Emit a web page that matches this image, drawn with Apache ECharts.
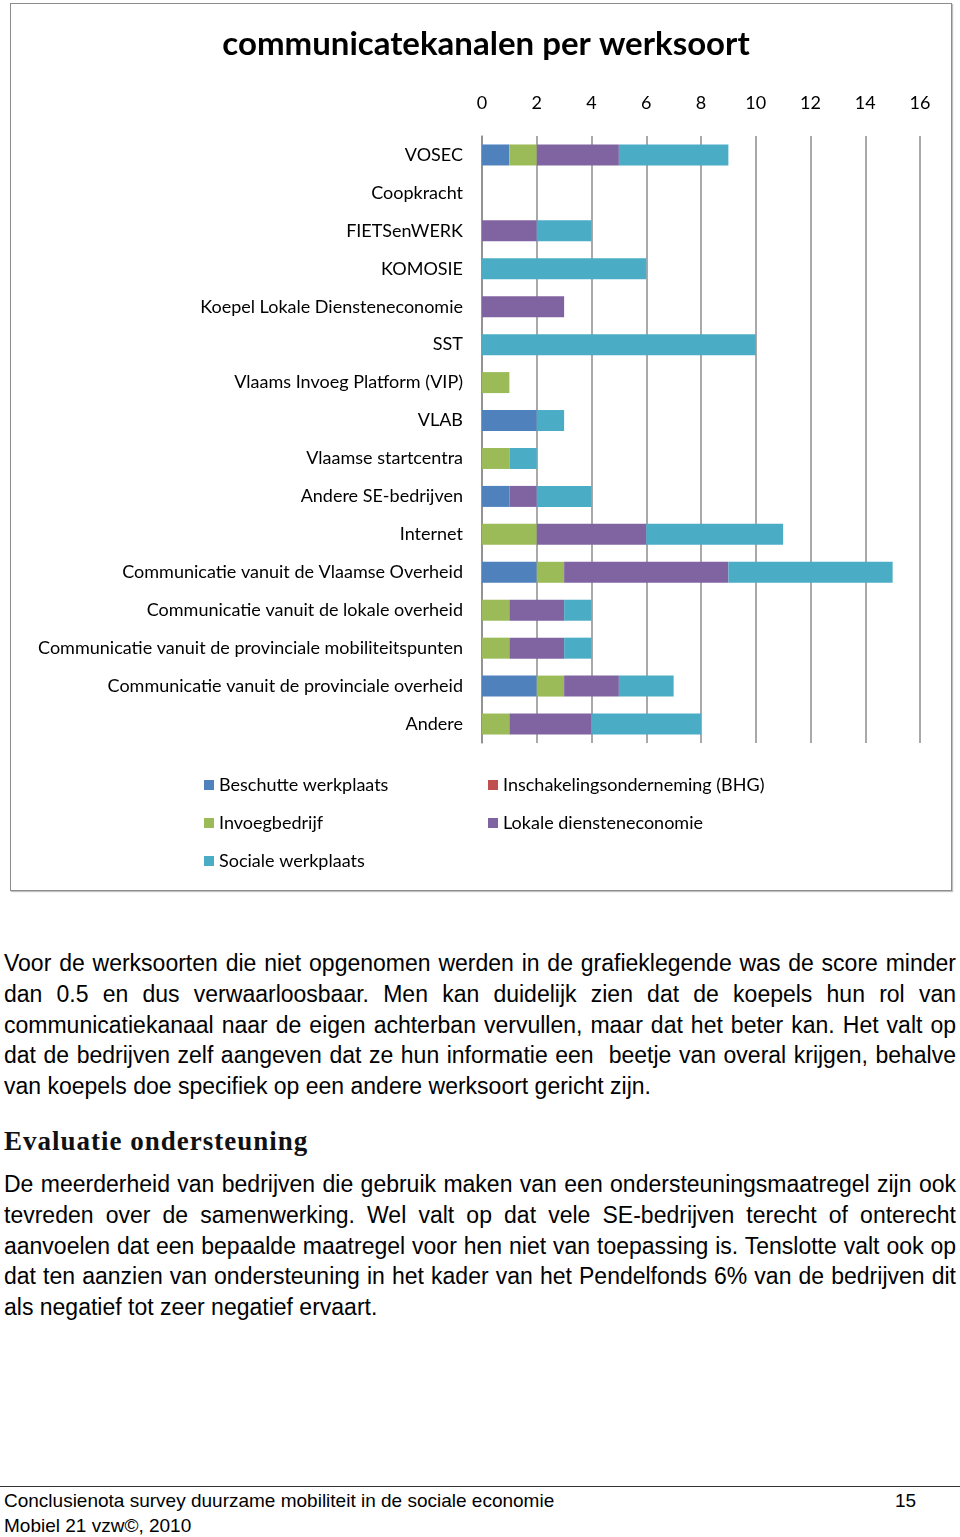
<!DOCTYPE html>
<html>
<head>
<meta charset="utf-8">
<script src="https://cdn.jsdelivr.net/npm/echarts@6/dist/echarts.min.js"></script>
<style>
  html, body { margin:0; padding:0; background:#fff; }
  body { width:960px; height:1537px; position:relative; overflow:hidden; }
  #frame { position:absolute; left:10px; top:3px; width:940px; height:886px; border:1px solid #8c8c8c; box-shadow:1px 1px 1px #c0c0c0; }
  #chart { position:absolute; left:0; top:0; width:960px; height:895px; }
  .txt { position:absolute; left:4px; width:952px; font-family:"Liberation Sans", Arial, sans-serif; font-size:23px; color:#000; }
  .ln { height:30.8px; line-height:30.8px; white-space:nowrap; }
  .j { text-align:justify; text-align-last:justify; }
  h2 { position:absolute; left:4px; top:1126px; margin:0; font-family:"Liberation Serif", serif; font-weight:bold; font-size:27px; letter-spacing:1px; color:#111; }
  #rule { position:absolute; left:0; top:1486px; width:960px; height:0; border-top:1.5px solid #333; }
  .foot { position:absolute; font-family:"Liberation Sans", Arial, sans-serif; font-size:19px; color:#000; }
</style>
</head>
<body>
<div id="frame"></div>
<div id="chart"></div>

<div class="txt" style="top:948px;">
  <div class="ln j">Voor de werksoorten die niet opgenomen werden in de grafieklegende was de score minder</div>
  <div class="ln j">dan 0.5 en dus verwaarloosbaar. Men kan duidelijk zien dat de koepels hun rol van</div>
  <div class="ln j">communicatiekanaal naar de eigen achterban vervullen, maar dat het beter kan. Het valt op</div>
  <div class="ln j">dat de bedrijven zelf aangeven dat ze hun informatie een&nbsp; beetje van overal krijgen, behalve</div>
  <div class="ln">van koepels doe specifiek op een andere werksoort gericht zijn.</div>
</div>

<h2>Evaluatie ondersteuning</h2>

<div class="txt" style="top:1169px;">
  <div class="ln j">De meerderheid van bedrijven die gebruik maken van een ondersteuningsmaatregel zijn ook</div>
  <div class="ln j">tevreden over de samenwerking. Wel valt op dat vele SE-bedrijven terecht of onterecht</div>
  <div class="ln j">aanvoelen dat een bepaalde maatregel voor hen niet van toepassing is. Tenslotte valt ook op</div>
  <div class="ln j">dat ten aanzien van ondersteuning in het kader van het Pendelfonds 6% van de bedrijven dit</div>
  <div class="ln">als negatief tot zeer negatief ervaart.</div>
</div>

<div id="rule"></div>
<div class="foot" style="left:4px; top:1490px;">Conclusienota survey duurzame mobiliteit in de sociale economie</div>
<div class="foot" style="left:895px; top:1490px;">15</div>
<div class="foot" style="left:4px; top:1515px;">Mobiel 21 vzw©, 2010</div>

<script>
const titleText = 'communicatekanalen per werksoort';
const categories = ['VOSEC','Coopkracht','FIETSenWERK','KOMOSIE','Koepel Lokale Diensteneconomie','SST','Vlaams Invoeg Platform (VIP)','VLAB','Vlaamse startcentra','Andere SE-bedrijven','Internet','Communicatie vanuit de Vlaamse Overheid','Communicatie vanuit de lokale overheid','Communicatie vanuit de provinciale mobiliteitspunten','Communicatie vanuit de provinciale overheid','Andere'];
const seriesNames = ['Beschutte werkplaats','Inschakelingsonderneming (BHG)','Invoegbedrijf','Lokale diensteneconomie','Sociale werkplaats'];
const beschutte = [1,0,0,0,0,0,0,2,0,1,0,2,0,0,2,0];
const inschakeling = [0,0,0,0,0,0,0,0,0,0,0,0,0,0,0,0];
const invoeg = [1,0,0,0,0,0,1,0,1,0,2,1,1,1,1,1];
const lokale = [3,0,2,0,3,0,0,0,0,1,4,6,2,2,2,3];
const sociale = [4,0,2,6,0,10,0,1,1,2,5,6,1,1,2,4];
const colors = ['#4f81bd','#c0504d','#9bbb59','#8064a2','#4bacc6'];
const seriesData = [beschutte, inschakeling, invoeg, lokale, sociale];

const font = 'Lato, "Open Sans", sans-serif';
const chart = echarts.init(document.getElementById('chart'), null, {renderer:'canvas'});
const legendCommon = {
  orient:'vertical', itemWidth:10, itemHeight:10, icon:'rect', itemGap:18, padding:0,
  textStyle:{fontFamily:font, fontSize:18, color:'#000', lineHeight:20}
};
chart.setOption({
  animation:false,
  color: colors,
  title:{ text:titleText, left:481, top:23, textAlign:'center',
    textStyle:{fontFamily:font, fontSize:33, fontWeight:'bold', color:'#000'} },
  legend:[
    Object.assign({left:204, top:775, data:[seriesNames[0], seriesNames[2], seriesNames[4]]}, legendCommon),
    Object.assign({left:488, top:775, data:[seriesNames[1], seriesNames[3]]}, legendCommon)
  ],
  grid:{ left:482, right:40, top:136, bottom:152 },
  xAxis:{ type:'value', position:'top', min:0, max:16, interval:2,
    axisLine:{show:false}, axisTick:{show:false},
    axisLabel:{fontFamily:font, fontSize:18, color:'#000', margin:24},
    splitLine:{lineStyle:{color:'#8c8c8c', width:1.5}} },
  yAxis:{ type:'category', data:categories, inverse:true,
    axisLine:{show:true, lineStyle:{color:'#8c8c8c', width:1.5}}, axisTick:{show:false},
    axisLabel:{fontFamily:font, fontSize:18, color:'#000', margin:19} },
  series: seriesNames.map((n,i)=>({
    name:n, type:'bar', stack:'total', data:seriesData[i], barWidth:21,
    itemStyle:{color:colors[i]}
  }))
});
</script>
</body>
</html>
